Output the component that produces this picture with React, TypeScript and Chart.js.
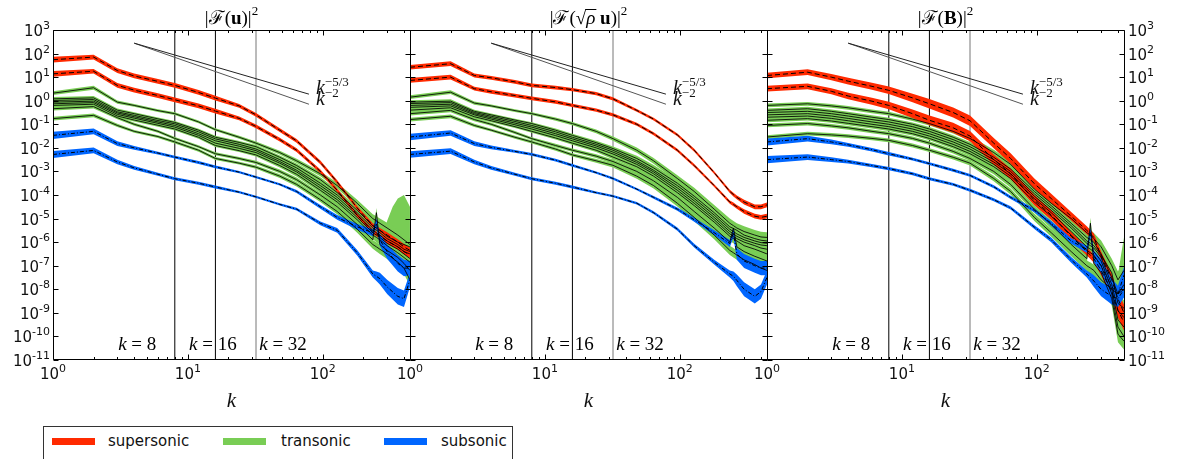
import React, { useEffect, useRef } from 'react';
import { Chart, registerables } from 'chart.js';
Chart.register(...registerables);

// ---------------- data (values are log10 of the spectrum) ----------------
const K = [1, 2, 3, 4, 6, 8, 12, 16, 24, 32, 48, 64, 96, 128, 180, 235, 250, 265, 300, 360, 400, 443];
const X_MIN = 1;
const X_MAX = 443.4;
const Y_MIN = 1e-11;
const Y_MAX = 1e3;
const K_MARKS = [8, 16, 32];
const K_MARK_LABELS = ['8', '16', '32'];
const K_MARK_LABEL_X = [3.04, 10.2, 33.8];
const K_MARK_LABEL_Y = 2.6e-11;
const PL_K = [4, 79];
const PL_53 = [276, 1.9];
const PL_2 = [276, 0.71];
const PL_LABEL_K = 89;
const PL_LABEL_Y = [1.93, 0.66];
const MINOR_X = [2, 3, 4, 5, 6, 7, 8, 9, 20, 30, 40, 50, 60, 70, 80, 90, 200, 300, 400];
const DECADES_X = [0, 1, 2];
const DECADES_Y = [-11, -10, -9, -8, -7, -6, -5, -4, -3, -2, -1, 0, 1, 2, 3];
const LEGEND_LABELS = ['supersonic', 'transonic', 'subsonic'];

// ---- panel 1 : |F(u)|^2
const P1_RED_A = [1.74, 1.85, 1.28, 1.05, 0.82, 0.65, 0.35, 0.11, -0.22, -0.6, -1.25, -1.7, -2.62, -3.45, -4.55, -5.3, -5.4, -5.5, -5.7, -6.0, -6.2, -6.35];
const P1_RED_B = [1.14, 1.25, 0.65, 0.45, 0.22, 0.04, -0.22, -0.44, -0.75, -1.09, -1.65, -2.1, -3.0, -3.8, -4.85, -5.55, -5.65, -5.75, -5.95, -6.2, -6.4, -6.55];
const P1_GREEN_1 = [0.32, 0.55, -0.06, -0.2, -0.42, -0.55, -0.9, -1.23, -1.55, -1.8, -2.2, -2.55, -3.1, -3.6, -4.35, -5.0, -5.1, -5.2, -5.4, -5.7, -5.9, -6.1];
const P1_GREEN_2 = [0.08, 0.12, -0.4, -0.55, -0.77, -0.92, -1.25, -1.55, -1.77, -1.95, -2.4, -2.75, -3.35, -3.9, -4.65, -5.3, -5.4, -5.5, -5.75, -6.0, -6.1, -6.2];
const P1_GREEN_3 = [0.01, 0.05, -0.47, -0.62, -0.84, -0.98, -1.32, -1.62, -1.85, -2.05, -2.5, -2.85, -3.5, -4.0, -4.75, -5.4, -5.5, -5.6, -5.85, -6.1, -6.3, -6.4];
const P1_GREEN_4 = [-0.06, -0.02, -0.52, -0.68, -0.9, -1.05, -1.4, -1.7, -1.93, -2.12, -2.58, -2.95, -3.6, -4.1, -4.85, -5.5, -5.6, -5.7, -5.95, -6.2, -6.4, -6.5];
const P1_GREEN_5 = [-0.13, -0.08, -0.58, -0.74, -0.96, -1.12, -1.47, -1.8, -2.02, -2.2, -2.65, -3.02, -3.7, -4.2, -4.95, -5.6, -5.7, -5.8, -6.05, -6.3, -6.5, -6.7];
const P1_GREEN_6 = [-0.2, -0.15, -0.65, -0.82, -1.04, -1.2, -1.55, -1.9, -2.12, -2.3, -2.75, -3.12, -3.8, -4.3, -5.05, -5.7, -5.8, -5.9, -6.15, -6.45, -6.65, -6.85];
const P1_GREEN_7 = [-0.34, -0.25, -0.72, -1.0, -1.3, -1.6, -1.95, -2.25, -2.45, -2.62, -3.0, -3.35, -4.0, -4.5, -5.25, -5.9, -4.75, -6.1, -6.35, -6.65, -6.9, -7.2];
const P1_GREEN_8 = [-0.76, -0.62, -1.05, -1.3, -1.52, -1.75, -2.1, -2.45, -2.65, -2.82, -3.2, -3.55, -4.2, -4.7, -5.45, -6.1, -6.2, -6.3, -6.5, -6.85, -7.1, -7.6];
const P1_BLUE_A = [-1.47, -1.3, -1.82, -2.0, -2.22, -2.39, -2.62, -2.81, -3.03, -3.24, -3.55, -3.85, -4.5, -4.95, -5.35, -5.6, -5.2, -5.9, -6.4, -6.9, -7.1, -7.1];
const P1_BLUE_B = [-2.28, -2.11, -2.6, -2.85, -3.12, -3.31, -3.5, -3.66, -3.88, -4.08, -4.4, -4.6, -5.2, -5.5, -6.45, -7.35, -7.45, -7.55, -7.9, -8.3, -8.4, -7.6];
const P1_RED_SPREAD = [0.12, 0.1, 0.1, 0.1, 0.1, 0.1, 0.1, 0.1, 0.08, 0.08, 0.08, 0.08, 0.08, 0.08, 0.08, 0.1, 0.1, 0.1, 0.12, 0.12, 0.12, 0.12];
const P1_GREEN_SPREAD = [0.08, 0.08, 0.07, 0.06, 0.06, 0.06, 0.06, 0.06, 0.06, 0.07, 0.08, 0.09, 0.1, 0.12, 0.15, 0.18, 0.2, 0.2, 0.22, 0.25, 0.25, 0.25];
const P1_BLUE_SPREAD = [0.15, 0.12, 0.1, 0.08, 0.06, 0.06, 0.06, 0.06, 0.05, 0.05, 0.05, 0.06, 0.08, 0.1, 0.12, 0.15, 0.2, 0.25, 0.3, 0.35, 0.35, 0.3];
const P1_BUMP_K = [270, 300, 330, 360, 400, 443];
const P1_BUMP_HI = [-6.0, -5.1, -4.5, -4.15, -4.0, -4.5];
const P1_BUMP_LO = [-6.1, -6.2, -6.25, -6.3, -6.3, -6.4];

// ---- panel 2 : |F(sqrt(rho) u)|^2
const P2_RED_A = [1.42, 1.57, 1.07, 0.97, 0.8, 0.65, 0.56, 0.47, 0.3, 0.08, -0.41, -0.78, -1.45, -2.1, -3.05, -3.85, -3.98, -4.1, -4.3, -4.5, -4.5, -4.42];
const P2_RED_B = [0.86, 1.0, 0.51, 0.38, 0.22, 0.1, -0.05, -0.2, -0.4, -0.6, -1.0, -1.4, -2.1, -2.75, -3.6, -4.3, -4.4, -4.5, -4.7, -4.9, -4.95, -4.9];
const P2_GREEN_1 = [0.15, 0.36, -0.1, -0.22, -0.42, -0.55, -0.78, -0.97, -1.3, -1.61, -2.1, -2.55, -3.3, -3.85, -4.6, -5.2, -5.3, -5.4, -5.55, -5.7, -5.78, -5.8];
const P2_GREEN_2 = [-0.06, -0.02, -0.45, -0.6, -0.82, -0.97, -1.25, -1.47, -1.78, -2.03, -2.45, -2.85, -3.5, -4.05, -4.75, -5.35, -5.42, -5.5, -5.7, -5.85, -5.92, -5.95];
const P2_GREEN_3 = [-0.12, -0.08, -0.5, -0.66, -0.88, -1.05, -1.32, -1.55, -1.85, -2.1, -2.55, -2.95, -3.6, -4.15, -4.85, -5.45, -5.55, -5.65, -5.8, -5.95, -6.02, -6.05];
const P2_GREEN_4 = [-0.2, -0.15, -0.55, -0.72, -0.95, -1.12, -1.4, -1.62, -1.92, -2.18, -2.62, -3.02, -3.7, -4.25, -4.95, -5.55, -5.65, -5.75, -5.9, -6.05, -6.12, -6.15];
const P2_GREEN_5 = [-0.28, -0.22, -0.6, -0.78, -1.02, -1.2, -1.48, -1.7, -2.0, -2.26, -2.7, -3.1, -3.8, -4.35, -5.05, -5.65, -5.75, -5.85, -6.0, -6.15, -6.25, -6.3];
const P2_GREEN_6 = [-0.4, -0.3, -0.68, -0.85, -1.1, -1.3, -1.58, -1.8, -2.1, -2.39, -2.8, -3.2, -3.9, -4.45, -5.15, -5.75, -5.85, -5.95, -6.15, -6.3, -6.4, -6.5];
const P2_GREEN_7 = [-0.55, -0.41, -0.8, -1.0, -1.35, -1.61, -1.9, -2.1, -2.35, -2.58, -3.0, -3.4, -4.1, -4.7, -5.4, -6.0, -5.4, -6.2, -6.4, -6.6, -6.7, -6.8];
const P2_GREEN_8 = [-0.8, -0.66, -1.05, -1.25, -1.55, -1.75, -2.05, -2.3, -2.55, -2.74, -3.2, -3.6, -4.35, -4.95, -5.7, -6.35, -6.45, -6.55, -6.75, -6.95, -7.1, -7.2];
const P2_BLUE_A = [-1.54, -1.37, -1.82, -1.98, -2.15, -2.28, -2.52, -2.74, -3.05, -3.3, -3.75, -4.1, -4.6, -5.05, -5.6, -6.06, -5.6, -6.5, -6.8, -7.0, -7.1, -7.1];
const P2_BLUE_B = [-2.28, -2.14, -2.6, -2.85, -3.12, -3.31, -3.5, -3.66, -3.9, -4.05, -4.35, -4.75, -5.45, -6.15, -6.85, -7.35, -7.45, -7.62, -8.0, -8.3, -8.1, -7.5];
const P2_RED_SPREAD = [0.1, 0.1, 0.08, 0.08, 0.08, 0.08, 0.08, 0.07, 0.07, 0.07, 0.06, 0.06, 0.06, 0.06, 0.06, 0.07, 0.08, 0.08, 0.1, 0.1, 0.1, 0.1];
const P2_GREEN_SPREAD = [0.08, 0.08, 0.07, 0.06, 0.06, 0.06, 0.07, 0.07, 0.08, 0.09, 0.11, 0.12, 0.14, 0.16, 0.18, 0.2, 0.2, 0.2, 0.22, 0.22, 0.22, 0.22];
const P2_BLUE_SPREAD = [0.14, 0.12, 0.1, 0.08, 0.06, 0.06, 0.06, 0.06, 0.05, 0.05, 0.05, 0.06, 0.07, 0.08, 0.1, 0.15, 0.2, 0.25, 0.3, 0.3, 0.3, 0.3];

// ---- panel 3 : |F(B)|^2
const P3_RED_A = [1.07, 1.21, 1.0, 0.83, 0.61, 0.44, 0.12, -0.13, -0.5, -0.85, -1.8, -2.45, -3.52, -4.15, -4.9, -5.5, -5.65, -5.8, -6.6, -7.6, -8.4, -9.0];
const P3_RED_B = [0.51, 0.61, 0.4, 0.2, -0.02, -0.2, -0.55, -0.83, -1.15, -1.5, -2.5, -3.1, -4.22, -4.85, -5.75, -6.4, -6.55, -6.7, -7.2, -8.1, -8.9, -9.4];
const P3_GREEN_1 = [-0.2, -0.13, -0.22, -0.3, -0.45, -0.55, -0.78, -0.97, -1.3, -1.6, -2.2, -2.7, -3.75, -4.35, -5.0, -5.6, -5.7, -5.85, -6.2, -7.0, -7.6, -7.2];
const P3_GREEN_2 = [-0.41, -0.34, -0.45, -0.55, -0.7, -0.8, -1.0, -1.2, -1.55, -1.85, -2.4, -2.9, -3.85, -4.45, -5.2, -5.8, -5.9, -6.0, -6.5, -7.5, -8.2, -8.0];
const P3_GREEN_3 = [-0.5, -0.45, -0.55, -0.65, -0.8, -0.9, -1.1, -1.3, -1.65, -1.95, -2.5, -3.0, -3.95, -4.55, -5.3, -5.95, -6.05, -6.15, -6.55, -7.3, -8.6, -8.8];
const P3_GREEN_4 = [-0.6, -0.55, -0.65, -0.75, -0.9, -1.0, -1.2, -1.4, -1.75, -2.05, -2.6, -3.1, -4.05, -4.65, -5.4, -6.05, -6.15, -6.25, -6.65, -7.8, -8.9, -9.2];
const P3_GREEN_5 = [-0.7, -0.65, -0.75, -0.85, -1.0, -1.1, -1.3, -1.5, -1.85, -2.15, -2.7, -3.2, -4.15, -4.75, -5.55, -6.2, -6.3, -6.4, -6.8, -8.0, -9.3, -9.6];
const P3_GREEN_6 = [-0.83, -0.76, -0.86, -0.96, -1.1, -1.2, -1.4, -1.6, -1.95, -2.25, -2.8, -3.3, -4.3, -4.9, -5.7, -6.35, -6.45, -6.55, -7.0, -8.2, -9.6, -10.0];
const P3_GREEN_7 = [-1.05, -0.97, -1.07, -1.15, -1.3, -1.4, -1.6, -1.8, -2.15, -2.45, -3.0, -3.55, -4.6, -5.25, -6.1, -6.7, -5.2, -6.9, -7.3, -8.4, -9.9, -10.2];
const P3_GREEN_8 = [-1.54, -1.4, -1.45, -1.5, -1.6, -1.68, -1.9, -2.1, -2.4, -2.65, -3.3, -3.85, -4.95, -5.6, -6.4, -7.0, -7.1, -7.2, -7.6, -8.0, -8.2, -7.8];
const P3_BLUE_A = [-1.75, -1.61, -1.75, -1.87, -2.08, -2.25, -2.48, -2.67, -2.95, -3.17, -3.65, -4.1, -4.65, -5.2, -5.95, -6.3, -5.6, -6.6, -7.0, -7.9, -8.2, -7.4];
const P3_BLUE_B = [-2.5, -2.39, -2.5, -2.58, -2.75, -2.88, -3.1, -3.31, -3.55, -3.8, -4.2, -4.55, -5.36, -5.9, -6.75, -7.35, -7.5, -7.65, -8.0, -8.3, -8.4, -8.0];
const P3_RED_SPREAD = [0.12, 0.12, 0.13, 0.14, 0.15, 0.16, 0.18, 0.2, 0.21, 0.22, 0.22, 0.22, 0.22, 0.2, 0.18, 0.17, 0.17, 0.17, 0.2, 0.25, 0.3, 0.35];
const P3_GREEN_SPREAD = [0.08, 0.08, 0.08, 0.08, 0.08, 0.08, 0.08, 0.08, 0.09, 0.1, 0.12, 0.13, 0.15, 0.17, 0.2, 0.22, 0.24, 0.24, 0.27, 0.3, 0.35, 0.35];
const P3_BLUE_SPREAD = [0.15, 0.12, 0.1, 0.08, 0.07, 0.07, 0.06, 0.06, 0.06, 0.06, 0.06, 0.07, 0.08, 0.1, 0.12, 0.15, 0.2, 0.25, 0.3, 0.35, 0.35, 0.35];
const P3_BUMP_K = [400, 420, 443];
const P3_BUMP_HI = [-7.4, -6.6, -5.8];
const P3_BUMP_LO = [-8.0, -7.8, -7.6];

// ---------------- styles ----------------
const RED = '#ff2a00';
const GREEN = '#79cd55';
const BLUE = '#0066ff';
const SERIF = '"Liberation Serif", "DejaVu Serif", serif';
const SANS = '"DejaVu Sans", sans-serif';

type Seg = { t: string; font: string; dy?: number; over?: boolean };
const TF = `19px ${SERIF}`;
const TFB = `bold 19px ${SERIF}`;
const TFS = `13px ${SERIF}`;
const TITLES: Seg[][] = [
  [{ t: '|ℱ(', font: TF }, { t: 'u', font: TFB }, { t: ')|', font: TF }, { t: '2', font: TFS, dy: -9 }],
  [{ t: '|ℱ(', font: TF }, { t: '√', font: TF }, { t: 'ρ', font: `italic 19px ${SERIF}`, over: true }, { t: ' ', font: TF }, { t: 'u', font: TFB }, { t: ')|', font: TF }, { t: '2', font: TFS, dy: -9 }],
  [{ t: '|ℱ(', font: TF }, { t: 'B', font: TFB }, { t: ')|', font: TF }, { t: '2', font: TFS, dy: -9 }],
];

type PanelData = {
  red: number[][]; green: number[][]; blue: number[][];
  redSpread: number[]; greenSpread: number[]; blueSpread: number[];
  bump?: { k: number[]; hi: number[]; lo: number[] };
};
const PANEL_DATA: PanelData[] = [
  {
    red: [P1_RED_A, P1_RED_B],
    green: [P1_GREEN_1, P1_GREEN_2, P1_GREEN_3, P1_GREEN_4, P1_GREEN_5, P1_GREEN_6, P1_GREEN_7, P1_GREEN_8],
    blue: [P1_BLUE_A, P1_BLUE_B],
    redSpread: P1_RED_SPREAD, greenSpread: P1_GREEN_SPREAD, blueSpread: P1_BLUE_SPREAD,
    bump: { k: P1_BUMP_K, hi: P1_BUMP_HI, lo: P1_BUMP_LO },
  },
  {
    red: [P2_RED_A, P2_RED_B],
    green: [P2_GREEN_1, P2_GREEN_2, P2_GREEN_3, P2_GREEN_4, P2_GREEN_5, P2_GREEN_6, P2_GREEN_7, P2_GREEN_8],
    blue: [P2_BLUE_A, P2_BLUE_B],
    redSpread: P2_RED_SPREAD, greenSpread: P2_GREEN_SPREAD, blueSpread: P2_BLUE_SPREAD,
  },
  {
    red: [P3_RED_A, P3_RED_B],
    green: [P3_GREEN_1, P3_GREEN_2, P3_GREEN_3, P3_GREEN_4, P3_GREEN_5, P3_GREEN_6, P3_GREEN_7, P3_GREEN_8],
    blue: [P3_BLUE_A, P3_BLUE_B],
    redSpread: P3_RED_SPREAD, greenSpread: P3_GREEN_SPREAD, blueSpread: P3_BLUE_SPREAD,
    bump: { k: P3_BUMP_K, hi: P3_BUMP_HI, lo: P3_BUMP_LO },
  },
];

const PANEL_BOX = [
  { left: 0, width: 440, padL: 53, padR: 30, yLabels: 'left' },
  { left: 380, width: 410, padL: 30, padR: 23, yLabels: 'none' },
  { left: 740, width: 441, padL: 27, padR: 57, yLabels: 'right' },
];
const CANVAS_H = 420;

const isPow10 = (v: number) => { const e = Math.log10(v); return Math.abs(e - Math.round(e)) < 1e-6; };

function drawRich(ctx: CanvasRenderingContext2D, segs: Seg[], x: number, y: number, align: 'left' | 'center' | 'right') {
  let w = 0;
  for (const s of segs) { ctx.font = s.font; w += ctx.measureText(s.t).width; }
  let cx = align === 'center' ? x - w / 2 : align === 'right' ? x - w : x;
  ctx.textAlign = 'left';
  ctx.textBaseline = 'alphabetic';
  for (const s of segs) {
    ctx.font = s.font;
    const sw = ctx.measureText(s.t).width;
    ctx.fillText(s.t, cx, y + (s.dy || 0));
    if (s.over) {
      ctx.beginPath();
      ctx.moveTo(cx - 1, y - 14.5);
      ctx.lineTo(cx + sw + 1, y - 14.5);
      ctx.stroke();
    }
    cx += sw;
  }
}

const powSegs = (e: number): Seg[] => [
  { t: '10', font: `15px ${SANS}` },
  { t: String(e), font: `11px ${SANS}`, dy: -7 },
];

function buildDatasets(p: PanelData) {
  const ds: any[] = [];
  const band = (mean: number[], spread: number[], color: string) => {
    ds.push({ data: K.map((k, i) => ({ x: k, y: Math.pow(10, mean[i] + spread[i]) })), backgroundColor: color, borderColor: 'transparent', borderWidth: 0, pointRadius: 0, fill: '+1', order: 2 });
    ds.push({ data: K.map((k, i) => ({ x: k, y: Math.pow(10, mean[i] - spread[i]) })), borderColor: 'transparent', borderWidth: 0, pointRadius: 0, fill: false, order: 2 });
  };
  const line = (mean: number[], color: string, dash: number[]) => {
    ds.push({ data: K.map((k, i) => ({ x: k, y: Math.pow(10, mean[i]) })), borderColor: color, borderWidth: 1, borderDash: dash, pointRadius: 0, fill: false, order: 1 });
  };
  p.blue.forEach(m => band(m, p.blueSpread, BLUE));
  p.red.forEach(m => band(m, p.redSpread, RED));
  p.green.forEach(m => band(m, p.greenSpread, GREEN));
  if (p.bump) {
    const b = p.bump;
    ds.push({ data: b.k.map((k, i) => ({ x: k, y: Math.pow(10, b.hi[i]) })), backgroundColor: GREEN, borderColor: 'transparent', borderWidth: 0, pointRadius: 0, fill: '+1', order: 2 });
    ds.push({ data: b.k.map((k, i) => ({ x: k, y: Math.pow(10, b.lo[i]) })), borderColor: 'transparent', borderWidth: 0, pointRadius: 0, fill: false, order: 2 });
  }
  p.green.forEach(m => line(m, 'rgba(0,0,0,0.85)', []));
  p.red.forEach(m => line(m, '#000', [5, 3]));
  p.blue.forEach(m => line(m, '#000', [4, 2, 1, 2]));
  K_MARKS.forEach((k, i) => {
    ds.push({ data: [{ x: k, y: Y_MIN }, { x: k, y: Y_MAX }], borderColor: i === 2 ? '#777' : '#000', borderWidth: 1, pointRadius: 0, fill: false, order: 3 });
  });
  ds.push({ data: PL_K.map((k, i) => ({ x: k, y: PL_53[i] })), borderColor: '#222', borderWidth: 1, pointRadius: 0, fill: false, order: 1 });
  ds.push({ data: PL_K.map((k, i) => ({ x: k, y: PL_2[i] })), borderColor: '#555', borderWidth: 1, pointRadius: 0, fill: false, order: 1 });
  return ds;
}

const decor = (idx: number) => ({
  id: 'decor' + idx,
  afterDraw(chart: any) {
    const { ctx, chartArea: a } = chart;
    const xs = chart.scales.x;
    const ys = chart.scales.y;
    const L = Math.round(a.left) + 0.5;
    const R = Math.round(a.right) + 0.5;
    const T = Math.round(a.top) + 0.5;
    const B = Math.round(a.bottom) - 0.5;
    ctx.save();
    ctx.strokeStyle = '#000';
    ctx.lineWidth = 1;
    ctx.beginPath();
    ctx.rect(L, T, R - L, B - T);
    for (const v of MINOR_X) {
      if (v > X_MAX) continue;
      const px = Math.round(xs.getPixelForValue(v)) + 0.5;
      ctx.moveTo(px, B); ctx.lineTo(px, B - 2.5);
      ctx.moveTo(px, T); ctx.lineTo(px, T + 2.5);
    }
    for (const e of DECADES_X) {
      const px = Math.round(xs.getPixelForValue(Math.pow(10, e))) + 0.5;
      ctx.moveTo(px, B); ctx.lineTo(px, B - 5);
      ctx.moveTo(px, T); ctx.lineTo(px, T + 5);
    }
    for (const e of DECADES_Y) {
      const py = Math.round(ys.getPixelForValue(Math.pow(10, e))) + 0.5;
      ctx.moveTo(L, py); ctx.lineTo(L + 5, py);
      ctx.moveTo(R, py); ctx.lineTo(R - 5, py);
    }
    ctx.stroke();

    ctx.fillStyle = '#111';
    // x tick labels
    for (const e of DECADES_X) {
      drawRich(ctx, powSegs(e), xs.getPixelForValue(Math.pow(10, e)), a.bottom + 19, 'center');
    }
    // y tick labels
    const side = PANEL_BOX[idx].yLabels;
    if (side !== 'none') {
      for (const e of DECADES_Y) {
        const py = ys.getPixelForValue(Math.pow(10, e)) + 6;
        if (side === 'left') drawRich(ctx, powSegs(e), a.left - 3, py, 'right');
        else drawRich(ctx, powSegs(e), a.right + 4, py, 'left');
      }
    }

    ctx.fillStyle = '#000';
    // title
    drawRich(ctx, TITLES[idx], (a.left + a.right) / 2, 24, 'center');
    // power-law labels
    const plx = xs.getPixelForValue(PL_LABEL_K);
    ctx.fillStyle = '#111';
    drawRich(ctx, [{ t: 'k', font: `italic 20px ${SERIF}` }, { t: '−5/3', font: `13px ${SERIF}`, dy: -8 }], plx, ys.getPixelForValue(PL_LABEL_Y[0]), 'left');
    drawRich(ctx, [{ t: 'k', font: `italic 20px ${SERIF}` }, { t: '−2', font: `13px ${SERIF}`, dy: -8 }], plx, ys.getPixelForValue(PL_LABEL_Y[1]), 'left');
    // k = 8 / 16 / 32 labels
    ctx.fillStyle = '#000';
    K_MARK_LABELS.forEach((lab, i) => {
      drawRich(ctx, [{ t: 'k', font: `italic 19px ${SERIF}` }, { t: ' = ' + lab, font: `19px ${SERIF}` }], xs.getPixelForValue(K_MARK_LABEL_X[i]), ys.getPixelForValue(K_MARK_LABEL_Y), 'left');
    });
    ctx.restore();
  },
});

function Panel({ idx }: { idx: number }) {
  const ref = useRef<HTMLCanvasElement>(null);
  const box = PANEL_BOX[idx];
  useEffect(() => {
    const b = PANEL_BOX[idx];
    const chart = new Chart(ref.current as HTMLCanvasElement, {
      type: 'line',
      data: { datasets: buildDatasets(PANEL_DATA[idx]) },
      options: {
        responsive: false,
        animation: false,
        events: [],
        layout: { padding: { left: b.padL, right: b.padR, top: 30, bottom: 0 } },
        elements: { line: { tension: 0 } },
        plugins: { legend: { display: false }, tooltip: { enabled: false }, title: { display: false } },
        scales: {
          x: {
            type: 'logarithmic', min: X_MIN, max: X_MAX,
            grid: { display: false, drawTicks: false },
            border: { display: false },
            ticks: { display: false },
            title: { display: true, text: 'k', color: '#111', font: { family: SERIF, size: 21, style: 'italic' }, padding: { top: 2, bottom: 6 } },
            afterFit: (s: any) => { s.height = 60; },
          },
          y: {
            type: 'logarithmic', min: Y_MIN, max: Y_MAX,
            display: false,
          },
        },
      } as any,
      plugins: [decor(idx)],
    });
    return () => chart.destroy();
  }, [idx]);
  return (
    <canvas ref={ref} width={box.width} height={CANVAS_H}
      style={{ position: 'absolute', left: box.left, top: 0, width: box.width, height: CANVAS_H }} />
  );
}

function Legend() {
  const colors = [RED, GREEN, BLUE];
  const swatchX = [8, 179, 340];
  const textX = [64, 237, 397];
  return (
    <div style={{ position: 'absolute', left: 43, top: 426, width: 470, height: 50, border: '1px solid #333', background: '#fff', boxSizing: 'border-box' }}>
      {LEGEND_LABELS.map((lab, i) => (
        <React.Fragment key={lab}>
          <div style={{ position: 'absolute', left: swatchX[i], top: 11, width: 43, height: 7, background: colors[i] }} />
          <div style={{ position: 'absolute', left: textX[i], top: 4, font: `15px ${SANS}`, color: '#111', lineHeight: '20px', whiteSpace: 'nowrap' }}>{lab}</div>
        </React.Fragment>
      ))}
    </div>
  );
}

export default function App() {
  return (
    <div style={{ position: 'fixed', left: 0, top: 0, width: 1181, height: 459, background: '#fff', overflow: 'hidden' }}>
      {[0, 1, 2].map(i => <Panel key={i} idx={i} />)}
      <Legend />
    </div>
  );
}
